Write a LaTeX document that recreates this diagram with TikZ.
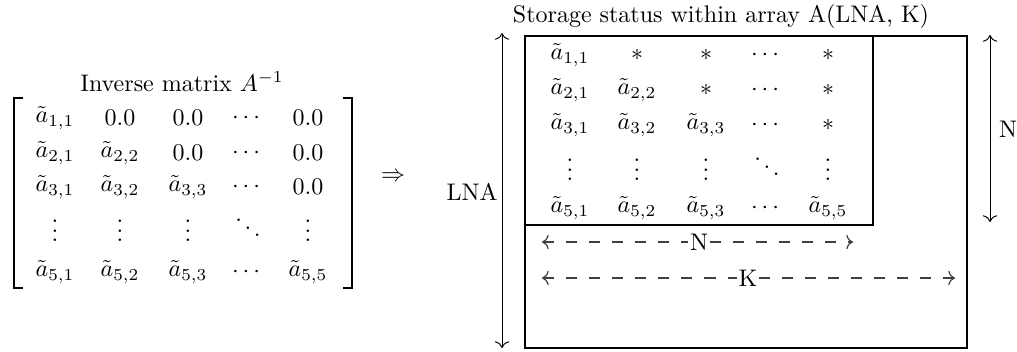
\documentclass[tikz,border=0pt]{standalone}
\usepackage{amsmath}
\usetikzlibrary{arrows.meta}
\newcommand{\myvdots}{\vbox{\baselineskip4pt\lineskiplimit0pt\hbox{.}\hbox{.}\hbox{.}}}
\newcommand{\myddots}{\hbox{\kern0.55pt\raise7pt\hbox{.}\kern1.1pt\raise4pt\hbox{.}\kern1.1pt\raise1pt\hbox{.}\kern0.55pt}}
\begin{document}
\begin{tikzpicture}[x=0.4167pt,y=-0.4167pt,
  entry/.style={inner sep=0pt},
  lbl/.style={inner sep=1pt},
  boxline/.style={line width=1.1pt},
  bracketline/.style={line width=1pt},
  tip/.tip={To[length=2.8pt,width=6pt,round]},
  dimarrow/.style={line width=0.4pt,tip-tip},
  dimdash/.style={line width=0.5pt,black!75,dash pattern=on 4.6pt off 5pt},
]
\useasboundingbox (0,0) rectangle (1017,351);
% ---------- left: inverse matrix ----------
\node[lbl] (ltitle) at (182,82) {Inverse matrix $A^{-1}$};
\draw[bracketline] (23,98) -- (14,98) -- (14,288) -- (23,288);
\draw[bracketline] (343,98) -- (352,98) -- (352,288) -- (343,288);
% row 1
\node[entry] (l11) at (55,118) {$\tilde a_{1,1}$};
\node[entry] (l12) at (120,118) {$0.0$};
\node[entry] (l13) at (188,118) {$0.0$};
\node[entry] (l14) at (248,118) {$\cdots$};
\node[entry] (l15) at (308,118) {$0.0$};
% row 2
\node[entry] (l21) at (55,153) {$\tilde a_{2,1}$};
\node[entry] (l22) at (120,153) {$\tilde a_{2,2}$};
\node[entry] (l23) at (188,153) {$0.0$};
\node[entry] (l24) at (248,153) {$\cdots$};
\node[entry] (l25) at (308,153) {$0.0$};
% row 3
\node[entry] (l31) at (55,187) {$\tilde a_{3,1}$};
\node[entry] (l32) at (120,187) {$\tilde a_{3,2}$};
\node[entry] (l33) at (188,187) {$\tilde a_{3,3}$};
\node[entry] (l34) at (248,187) {$\cdots$};
\node[entry] (l35) at (308,187) {$0.0$};
% row 4
\node[entry] (l41) at (55,231) {\myvdots};
\node[entry] (l42) at (120,231) {\myvdots};
\node[entry] (l43) at (188,231) {\myvdots};
\node[entry] (l44) at (248,229) {\myddots};
\node[entry] (l45) at (308,231) {\myvdots};
% row 5
\node[entry] (l51) at (55,272) {$\tilde a_{5,1}$};
\node[entry] (l52) at (120,272) {$\tilde a_{5,2}$};
\node[entry] (l53) at (188,272) {$\tilde a_{5,3}$};
\node[entry] (l54) at (248,272) {$\cdots$};
\node[entry] (l55) at (308,272) {$\tilde a_{5,5}$};
% arrow
\node[entry] (imp) at (393,177) {$\Rightarrow$};
% ---------- right: storage ----------
\node[lbl] (rtitle) at (721,16) {Storage status within array A(LNA, K)};
\draw[boxline] (525,36) rectangle (967,348);
\draw[boxline] (525,36) rectangle (873,225);
% row 1
\node[entry] (r11) at (570,55) {$\tilde a_{1,1}$};
\node[entry] (r12) at (637,55) {$*$};
\node[entry] (r13) at (706,55) {$*$};
\node[entry] (r14) at (767,55) {$\cdots$};
\node[entry] (r15) at (828,55) {$*$};
% row 2
\node[entry] (r21) at (570,90) {$\tilde a_{2,1}$};
\node[entry] (r22) at (637,90) {$\tilde a_{2,2}$};
\node[entry] (r23) at (706,90) {$*$};
\node[entry] (r24) at (767,90) {$\cdots$};
\node[entry] (r25) at (828,90) {$*$};
% row 3
\node[entry] (r31) at (570,125) {$\tilde a_{3,1}$};
\node[entry] (r32) at (637,125) {$\tilde a_{3,2}$};
\node[entry] (r33) at (706,125) {$\tilde a_{3,3}$};
\node[entry] (r34) at (767,125) {$\cdots$};
\node[entry] (r35) at (828,125) {$*$};
% row 4
\node[entry] (r41) at (570,170) {\myvdots};
\node[entry] (r42) at (637,170) {\myvdots};
\node[entry] (r43) at (706,170) {\myvdots};
\node[entry] (r44) at (767,168) {\myddots};
\node[entry] (r45) at (828,170) {\myvdots};
% row 5
\node[entry] (r51) at (570,208) {$\tilde a_{5,1}$};
\node[entry] (r52) at (637,208) {$\tilde a_{5,2}$};
\node[entry] (r53) at (706,208) {$\tilde a_{5,3}$};
\node[entry] (r54) at (767,208) {$\cdots$};
\node[entry] (r55) at (828,208) {$\tilde a_{5,5}$};
% LNA dimension
\coordinate (lnaT) at (502,33);
\coordinate (lnaB) at (502,348);
\draw[dimarrow] (lnaT) -- (lnaB);
\node[lbl] (lna) at (472,192) {LNA};
% N dimension (right)
\coordinate (nT) at (990,35);
\coordinate (nB) at (990,222);
\draw[dimarrow] (nT) -- (nB);
\node[lbl] (nlab) at (1008,129) {N};
% N dashed width
\coordinate (nL) at (542,242);
\coordinate (nR) at (853,242);
\node[inner sep=0.5pt] (nw) at (699,242) {N};
\draw[dimdash,tip-] (nL) -- (nw.west);
\draw[dimdash,-tip] (nw.east) -- (nR);
% K dashed width
\coordinate (kL) at (542,278);
\coordinate (kR) at (955,278);
\node[inner sep=0.5pt] (kw) at (748,278) {K};
\draw[dimdash,tip-] (kL) -- (kw.west);
\draw[dimdash,-tip] (kw.east) -- (kR);
\end{tikzpicture}
\end{document}
